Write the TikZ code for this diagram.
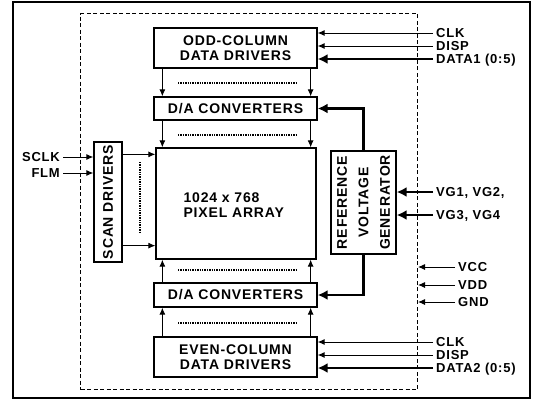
\documentclass[tikz,border=0pt]{standalone}
\usepackage{fontspec}
\setmainfont{Liberation Sans}[LetterSpace=6]
\usepackage{tikz}
\usetikzlibrary{shapes,arrows,arrows.meta,positioning}

\begin{document}
\begin{tikzpicture}[x=1pt, y=-1pt,
    font=\bfseries\fontsize{14}{15}\selectfont,
    box/.style={rectangle, draw, line width=1.3pt, align=center, inner sep=0pt},
    pin_lbl/.style={inner xsep=3pt, inner ysep=0.5pt, text height=9pt, text depth=0pt, font=\bfseries\fontsize{13}{14}\selectfont},
    line/.style={draw, -{Latex[length=7pt, width=6pt]}, line width=0.9pt},
    bus/.style={draw, -{Latex[length=10pt, width=10pt]}, line width=2.6pt},
    dots/.style={densely dotted, line width=1.4pt}]
    \useasboundingbox (0,0) rectangle (537,402);

    % Frames
    \draw [line width=1.3pt] (13,2) rectangle (530,398);
    \node [draw, dash pattern=on 4pt off 2.5pt, line width=1pt, minimum width=337pt, minimum height=376pt, anchor=north west] (chip) at (80,13) {};

    % Column side
    \node [box, minimum width=163pt, minimum height=40pt] (odd_drv) at (235.5,48) {ODD-COLUMN\\DATA DRIVERS};
    \node [box, minimum width=163pt, minimum height=23pt] (da_top) at (235.5,108.5) {D/A CONVERTERS};
    \node [box, minimum width=160pt, minimum height=111pt] (pixel) at (236,203.5) {};
    \node [align=left, anchor=west] (pixel_lbl) at (180,205) {1024 x 768\\PIXEL ARRAY};
    \node [box, minimum width=163pt, minimum height=24pt] (da_bot) at (235.5,295) {D/A CONVERTERS};
    \node [box, minimum width=163pt, minimum height=40pt] (even_drv) at (235.5,357) {EVEN-COLUMN\\DATA DRIVERS};

    % Row side and reference
    \node [box, minimum width=28pt, minimum height=120pt] (scan) at (108,202) {};
    \node [rotate=90] (scan_lbl) at (scan) {SCAN DRIVERS};
    \node [box, minimum width=65pt, minimum height=103pt] (refgen) at (363.5,202.5) {};
    \node [rotate=90, align=center, font=\bfseries\fontsize{14}{21.5}\selectfont] (refgen_lbl) at (refgen) {REFERENCE\\VOLTAGE\\GENERATOR};

    % Connectors between blocks
    \draw [line] ([xshift=9pt]odd_drv.south west) -- ([xshift=9pt]odd_drv.south west |- da_top.north);
    \draw [line] ([xshift=-7pt]odd_drv.south east) -- ([xshift=-7pt]odd_drv.south east |- da_top.north);
    \draw [line] ([xshift=9pt]da_top.south west) -- ([xshift=9pt]da_top.south west |- pixel.north);
    \draw [line] ([xshift=-7pt]da_top.south east) -- ([xshift=-7pt]da_top.south east |- pixel.north);
    \draw [line] ([xshift=9pt]da_bot.north west) -- ([xshift=9pt]da_bot.north west |- pixel.south);
    \draw [line] ([xshift=-7pt]da_bot.north east) -- ([xshift=-7pt]da_bot.north east |- pixel.south);
    \draw [line] ([xshift=9pt]even_drv.north west) -- ([xshift=9pt]even_drv.north west |- da_bot.south);
    \draw [line] ([xshift=-7pt]even_drv.north east) -- ([xshift=-7pt]even_drv.north east |- da_bot.south);
    \draw [line] ([yshift=-13pt]scan.north east) -- ([yshift=-13pt]scan.north east -| pixel.west);
    \draw [line] ([yshift=17pt]scan.south east) -- ([yshift=17pt]scan.south east -| pixel.west);
    \draw [bus] (refgen.north) |- (da_top.east);
    \draw [bus] (refgen.south) |- (da_bot.east);

    % Dotted fill lines
    \draw [dots] (178,83) -- (296,83);
    \draw [dots] (178,135) -- (296,135);
    \draw [dots] (178,270) -- (296,270);
    \draw [dots] (178,323) -- (296,323);
    \draw [dots] (140,162) -- (140,233);

    % Left inputs
    \node [pin_lbl, anchor=east] (sclk) at (63,157) {SCLK};
    \node [pin_lbl, anchor=east] (flm) at (63,173) {FLM};
    \draw [line] (sclk.east) -- (sclk -| scan.west);
    \draw [line] (flm.east) -- (flm -| scan.west);

    % Right inputs, top
    \node [pin_lbl, anchor=west] (clk_a) at (433,33) {CLK};
    \node [pin_lbl, anchor=west] (disp_a) at (433,46) {DISP};
    \node [pin_lbl, anchor=west] (data_a) at (433,59) {DATA1 (0:5)};
    \draw [line] (clk_a.west) -- (clk_a -| odd_drv.east);
    \draw [line] (disp_a.west) -- (disp_a -| odd_drv.east);
    \draw [bus] (data_a.west) -- (data_a -| odd_drv.east);

    % Reference inputs
    \node [pin_lbl, anchor=west] (vg_a) at (433,192) {VG1, VG2,};
    \node [pin_lbl, anchor=west] (vg_b) at (433,215) {VG3, VG4};
    \draw [bus] (vg_a.west) -- (vg_a -| refgen.east);
    \draw [bus] (vg_b.west) -- (vg_b -| refgen.east);

    % Supplies
    \node [pin_lbl, anchor=west] (vcc) at (455,267) {VCC};
    \node [pin_lbl, anchor=west] (vdd) at (455,285) {VDD};
    \node [pin_lbl, anchor=west] (gnd) at (455,302) {GND};
    \draw [line] (vcc.west) -- (vcc -| chip.east);
    \draw [line] (vdd.west) -- (vdd -| chip.east);
    \draw [line] (gnd.west) -- (gnd -| chip.east);

    % Right inputs, bottom
    \node [pin_lbl, anchor=west] (clk_b) at (433,342) {CLK};
    \node [pin_lbl, anchor=west] (disp_b) at (433,355) {DISP};
    \node [pin_lbl, anchor=west] (data_b) at (433,368) {DATA2 (0:5)};
    \draw [line] (clk_b.west) -- (clk_b -| even_drv.east);
    \draw [line] (disp_b.west) -- (disp_b -| even_drv.east);
    \draw [bus] (data_b.west) -- (data_b -| even_drv.east);
\end{tikzpicture}
\end{document}
